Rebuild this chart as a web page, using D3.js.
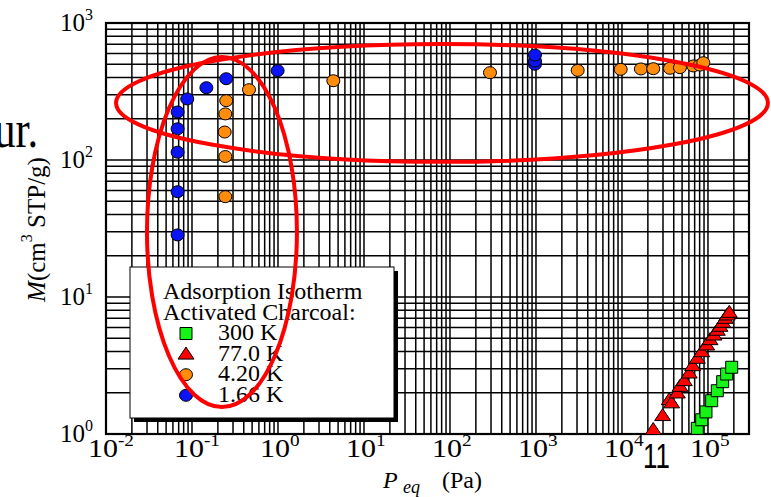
<!DOCTYPE html>
<html>
<head>
<meta charset="utf-8">
<script src="https://cdn.jsdelivr.net/npm/d3@7"></script>
<style>
  body { margin: 0; background: #fff; }
  svg { display: block; font-family: 'Liberation Serif', 'DejaVu Serif', serif; }
</style>
</head>
<body>
<div id="chart"></div>
<script>
// data (P in Pa, M in cm3 STP/g)
var p300 = [75100, 84500, 94800, 110400, 128300, 148300, 164900, 188700];
var m300 = [1.10, 1.27, 1.45, 1.75, 2.07, 2.41, 2.74, 3.07];

var p77 = [23100, 29700, 35500, 37800, 44000, 47200, 53000, 60600, 66400, 75100,
           84500, 96600, 105500, 117400, 128300, 137900, 148300, 159000, 167600, 177000];
var m77 = [1.06, 1.34, 1.75, 1.66, 1.96, 2.19, 2.41, 2.74, 3.10, 3.51,
           3.92, 4.39, 4.80, 5.19, 5.62, 6.01, 6.43, 6.87, 7.27, 7.60];

var p420 = [0.244, 0.244, 0.24, 0.244, 0.25, 0.46, 4.4, 292, 3055, 9660,
            16600, 23100, 36100, 47200, 67500, 80700, 88300];
var m420 = [54, 106, 160, 217, 271, 326, 379, 434, 451, 459,
            462, 464, 467, 472, 486, 493, 513];

var p166 = [0.068, 0.068, 0.068, 0.068, 0.068, 0.088, 0.147, 0.25, 0.99, 973, 973, 973];
var m166 = [28.4, 58.7, 114, 169, 224, 279, 337, 392, 449, 500, 528, 584];

// tick labels
var xExps = ['-2', '-1', '0', '1', '2', '3', '4', '5'];
var yExps = ['0', '1', '2', '3'];

// legend
var legendTitle = ['Adsorption Isotherm', 'Activated Charcoal:'];
var legendNames = ['300 K', '77.0 K', '4.20 K', '1.66 K'];

var width = 771;
var height = 497;
var plotL = 106, plotR = 749, plotT = 23, plotB = 434;

var svg = d3.select('#chart')
    .append('svg')
    .attr('width', width)
    .attr('height', height);

var x = d3.scaleLog().domain([0.01, 3e5]).range([plotL, plotR]);
var y = d3.scaleLog().domain([1, 1000]).range([plotB, plotT]);

//grid values: every 1..9 of each decade
var xGrid = [];
for (var e = -2; e <= 5; e++) {
    for (var k = 1; k <= 9; k++) {
        var v = k * Math.pow(10, e);
        if (v <= 3e5) xGrid.push(v);
    }
}
var yGrid = [];
for (var e2 = 0; e2 <= 3; e2++) {
    for (var k2 = 1; k2 <= 9; k2++) {
        var v2 = k2 * Math.pow(10, e2);
        if (v2 <= 1000) yGrid.push(v2);
    }
}

svg.append('g')
    .selectAll('line')
    .data(xGrid)
    .enter()
    .append('line')
    .attr('x1', function(d) { return x(d); })
    .attr('x2', function(d) { return x(d); })
    .attr('y1', plotT)
    .attr('y2', plotB)
    .attr('stroke', '#000')
    .attr('stroke-width', 1.5);

svg.append('g')
    .selectAll('line')
    .data(yGrid)
    .enter()
    .append('line')
    .attr('x1', plotL)
    .attr('x2', plotR)
    .attr('y1', function(d) { return y(d); })
    .attr('y2', function(d) { return y(d); })
    .attr('stroke', '#000')
    .attr('stroke-width', 1.5);

//frame
svg.append('rect')
    .attr('x', plotL)
    .attr('y', plotT)
    .attr('width', plotR - plotL)
    .attr('height', plotB - plotT)
    .attr('fill', 'none')
    .attr('stroke', '#000')
    .attr('stroke-width', 2.2);

//x tick labels, "10" centred on the tick
var xLab = svg.append('g').selectAll('text')
    .data(xExps)
    .enter()
    .append('text')
    .attr('x', function(d) { return x(Math.pow(10, +d)) - 15; })
    .attr('y', plotB + 23)
    .attr('font-size', 25)
    .attr('transform', function(d) {
        var cx = x(Math.pow(10, +d));
        return 'translate(' + cx + ',0) scale(1.2,1) translate(' + (-cx) + ',0)';
    });
xLab.append('tspan').text('10');
xLab.append('tspan').attr('font-size', 16).attr('dy', -11).text(function(d) { return d; });

//y tick labels
var yLab = svg.append('g').selectAll('text')
    .data(yExps)
    .enter()
    .append('text')
    .attr('x', 60)
    .attr('y', function(d) { return y(Math.pow(10, +d)) + 8; })
    .attr('font-size', 25);
yLab.append('tspan').text('10');
yLab.append('tspan').attr('font-size', 16).attr('dy', -11).text(function(d) { return d; });

//axis titles
var xt = svg.append('text')
    .attr('y', 488)
    .attr('font-size', 24);
xt.append('tspan').attr('x', 383).attr('font-style', 'italic').text('P');
xt.append('tspan').attr('x', 403).attr('font-style', 'italic').attr('font-size', 18).attr('dy', 5).text('eq');
xt.append('tspan').attr('x', 442).attr('dy', -5).text('(Pa)');

var yt = svg.append('text')
    .attr('transform', 'translate(45,' + ((plotT + plotB) / 2 + 1) + ') rotate(-90)')
    .attr('text-anchor', 'middle')
    .attr('font-size', 25);
yt.append('tspan').attr('font-style', 'italic').text('M');
yt.append('tspan').text('(cm');
yt.append('tspan').attr('font-size', 16).attr('dy', -13).text('3');
yt.append('tspan').attr('dy', 13).text(' STP/g)');

//markers
function zip(a, b) {
    return a.map(function(v, i) { return [v, b[i]]; });
}

function squarePath(s) { return 'M' + (-s) + ',' + (-s) + 'h' + 2 * s + 'v' + 2 * s + 'h' + (-2 * s) + 'Z'; }
function triPath() { return 'M0,-8L8,4L-8,4Z'; }

var gData = svg.append('g');

gData.selectAll('.sq')
    .data(zip(p300, m300))
    .enter()
    .append('path')
    .attr('class', 'sq')
    .attr('d', squarePath(6))
    .attr('transform', function(d) { return 'translate(' + x(d[0]) + ',' + y(d[1]) + ')'; })
    .attr('fill', '#16f316')
    .attr('stroke', '#000')
    .attr('stroke-width', 1);

gData.selectAll('.tri')
    .data(zip(p77, m77))
    .enter()
    .append('path')
    .attr('class', 'tri')
    .attr('d', triPath())
    .attr('transform', function(d) { return 'translate(' + x(d[0]) + ',' + y(d[1]) + ')'; })
    .attr('fill', '#ff0000')
    .attr('stroke', '#000')
    .attr('stroke-width', 1);

gData.selectAll('.org')
    .data(zip(p420, m420))
    .enter()
    .append('ellipse')
    .attr('class', 'org')
    .attr('cx', function(d) { return x(d[0]); })
    .attr('cy', function(d) { return y(d[1]); })
    .attr('rx', 6.5)
    .attr('ry', 6)
    .attr('fill', '#ff8c0a')
    .attr('stroke', '#000')
    .attr('stroke-width', 1);

gData.selectAll('.blu')
    .data(zip(p166, m166))
    .enter()
    .append('ellipse')
    .attr('class', 'blu')
    .attr('cx', function(d) { return x(d[0]); })
    .attr('cy', function(d) { return y(d[1]); })
    .attr('rx', 6.5)
    .attr('ry', 6)
    .attr('fill', '#0a14f5')
    .attr('stroke', '#000')
    .attr('stroke-width', 1);

//legend box with shadow
var lg = svg.append('g');
lg.append('rect').attr('x', 134).attr('y', 271).attr('width', 264).attr('height', 151).attr('fill', '#000');
lg.append('rect').attr('x', 130).attr('y', 267).attr('width', 264).attr('height', 151)
    .attr('fill', '#fff').attr('stroke', '#000').attr('stroke-width', 1);

lg.selectAll('.lt')
    .data(legendTitle)
    .enter()
    .append('text')
    .attr('x', 163)
    .attr('y', function(d, i) { return 299 + i * 21; })
    .attr('font-size', 24)
    .text(function(d) { return d; });

lg.selectAll('.ln')
    .data(legendNames)
    .enter()
    .append('text')
    .attr('x', 218)
    .attr('y', function(d, i) { return 340 + i * 20.6; })
    .attr('font-size', 24)
    .text(function(d) { return d; });

var ly = function(i) { return 333.5 + i * 20.6; };
lg.append('path').attr('d', squarePath(6)).attr('transform', 'translate(186,' + ly(0) + ')')
    .attr('fill', '#16f316').attr('stroke', '#000');
lg.append('path').attr('d', triPath()).attr('transform', 'translate(186,' + (ly(1) + 1) + ')')
    .attr('fill', '#ff0000').attr('stroke', '#000');
lg.append('ellipse').attr('cx', 186).attr('cy', ly(2)).attr('rx', 6.5).attr('ry', 6)
    .attr('fill', '#ff8c0a').attr('stroke', '#000');
lg.append('ellipse').attr('cx', 186).attr('cy', ly(3)).attr('rx', 6.5).attr('ry', 6)
    .attr('fill', '#0a14f5').attr('stroke', '#000');

//red annotation ellipses, centre in data units, half-size in decades
var ringP = [80.7, 0.223];
var ringM = [261, 29.8];
var ringDx = [3.79, 0.872];
var ringDy = [0.43, 1.277];

svg.append('g')
    .selectAll('ellipse')
    .data(ringP)
    .enter()
    .append('ellipse')
    .attr('cx', function(d) { return x(d); })
    .attr('cy', function(d, i) { return y(ringM[i]); })
    .attr('rx', function(d, i) { return x(d * Math.pow(10, ringDx[i])) - x(d); })
    .attr('ry', function(d, i) { return y(ringM[i]) - y(ringM[i] * Math.pow(10, ringDy[i])); })
    .attr('fill', 'none')
    .attr('stroke', '#ff0000')
    .attr('stroke-width', 4);

//stray slide text
svg.append('text')
    .attr('x', -7)
    .attr('y', 147)
    .attr('font-size', 52)
    .attr('transform', 'scale(0.82,1)')
    .text('ur.');

svg.append('text')
    .attr('x', 643)
    .attr('y', 468)
    .attr('font-family', "'Liberation Sans', Arial, sans-serif")
    .attr('font-size', 36)
    .attr('transform', 'translate(643,0) scale(0.72,1) translate(-643,0)')
    .text('11');
</script>
</body>
</html>
